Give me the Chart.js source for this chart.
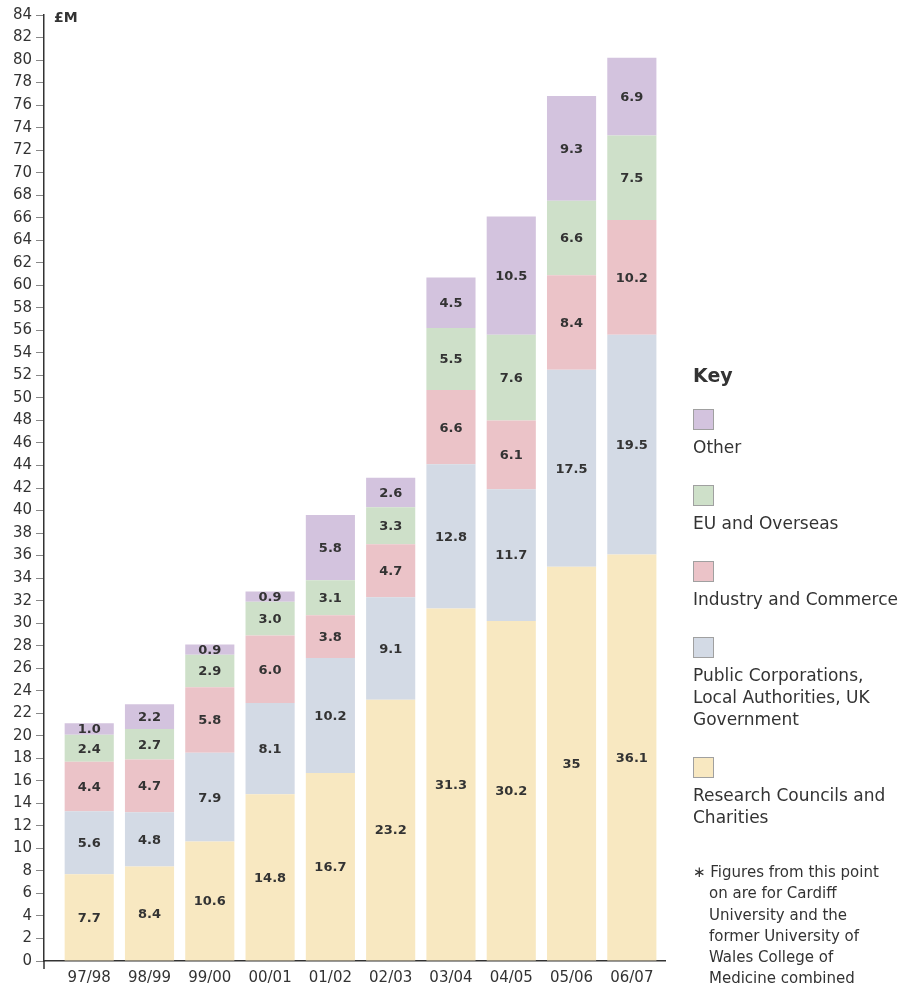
<!DOCTYPE html>
<html>
<head>
<meta charset="utf-8">
<script src="https://cdn.jsdelivr.net/npm/chart.js@4"></script>
<style>
  body { margin: 0; background: #fff; }
  #wrap { position: relative; width: 900px; height: 991px; }
  #key {
    position: absolute; left: 693px; top: 363px; width: 207px;
    font-family: 'DejaVu Sans', sans-serif; color: #333; font-size: 17px;
  }
  #key h3 { margin: 0 0 22px 0; font-size: 19px; line-height: 24px; }
  .item { margin-bottom: 27px; }
  .sw { width: 19px; height: 19px; border: 1px solid #a0a0a0; margin-bottom: 6px; }
  .item span { display: block; line-height: 22px; }
  #note {
    font-size: 15px; line-height: 21.3px; padding-left: 16px; text-indent: -16px;
    margin-top: 34px; white-space: nowrap;
  }
</style>
</head>
<body>
<div id="wrap">
  <canvas id="fundingChart" width="900" height="991"></canvas>
  <div id="key"><h3>Key</h3><div id="keyItems"></div>
    <div id="note">∗ Figures from this point<br>on are for Cardiff<br>University and the<br>former University of<br>Wales College of<br>Medicine combined</div>
  </div>
</div>
<script>
const years = ['97/98', '98/99', '99/00', '00/01', '01/02', '02/03', '03/04', '04/05', '05/06', '06/07']

// £M, stacked bottom to top
const research = [7.7, 8.4, 10.6, 14.8, 16.7, 23.2, 31.3, 30.2, 35, 36.1]
const publicCorp = [5.6, 4.8, 7.9, 8.1, 10.2, 9.1, 12.8, 11.7, 17.5, 19.5]
const industry = [4.4, 4.7, 5.8, 6.0, 3.8, 4.7, 6.6, 6.1, 8.4, 10.2]
const euOverseas = [2.4, 2.7, 2.9, 3.0, 3.1, 3.3, 5.5, 7.6, 6.6, 7.5]
const other = [1.0, 2.2, 0.9, 0.9, 5.8, 2.6, 4.5, 10.5, 9.3, 6.9]

const seriesNames = [
  'Research Councils and Charities',
  'Public Corporations, Local Authorities, UK Government',
  'Industry and Commerce',
  'EU and Overseas',
  'Other'
]
const seriesValues = [research, publicCorp, industry, euOverseas, other]
const seriesColors = ['#f8e8c1', '#d3dae5', '#ebc3c8', '#cee0c9', '#d3c3de']

const fmt = v => (Number.isInteger(v) && v >= 10 ? String(v) : v.toFixed(1))

// numbers in the middle of every segment
const segmentLabels = {
  id: 'segmentLabels',
  afterDatasetsDraw (chart) {
    const { ctx, chartArea } = chart
    ctx.save()
    ctx.font = 'bold 13px "DejaVu Sans", sans-serif'
    ctx.fillStyle = '#333'
    ctx.textAlign = 'center'
    ctx.textBaseline = 'middle'
    chart.data.datasets.forEach((ds, i) => {
      chart.getDatasetMeta(i).data.forEach((bar, j) => {
        const { x, y, base } = bar.getProps(['x', 'y', 'base'], true)
        ctx.fillText(fmt(ds.data[j].y), x, (y + base) / 2 + 1)
      })
    })
    // unit label
    ctx.font = 'bold 14px "DejaVu Sans", sans-serif'
    ctx.textAlign = 'left'
    ctx.fillText('£M', chartArea.left + 10, chartArea.top + 3)
    // little stub of the y axis below the x axis
    ctx.strokeStyle = '#333'
    ctx.lineWidth = 1.5
    ctx.beginPath()
    ctx.moveTo(chartArea.left, chartArea.bottom)
    ctx.lineTo(chartArea.left, chartArea.bottom + 8)
    ctx.stroke()
    ctx.restore()
  }
}

new Chart(document.getElementById('fundingChart'), {
  type: 'bar',
  plugins: [segmentLabels],
  data: {
    datasets: seriesValues.map((vals, i) => ({
      label: seriesNames[i],
      data: vals.map((v, j) => ({ x: j, y: v })),
      backgroundColor: seriesColors[i],
      borderWidth: 0,
      categoryPercentage: 1,
      barPercentage: 0.815
    }))
  },
  options: {
    responsive: false,
    animation: false,
    layout: { padding: { top: 15, right: 235, left: 0, bottom: 0 } },
    plugins: { legend: { display: false }, tooltip: { enabled: false } },
    scales: {
      x: {
        type: 'linear',
        stacked: true,
        offset: false,
        min: -0.75,
        max: 9.55,
        afterFit (scale) { scale.height = 30 },
        border: { color: '#333', width: 1.5 },
        grid: { display: false, offset: false },
        ticks: {
          stepSize: 1,
          includeBounds: false,
          autoSkip: false,
          maxRotation: 0,
          padding: 0,
          color: '#333',
          font: { family: 'DejaVu Sans', size: 15 },
          callback: v => (Number.isInteger(v) && years[v] !== undefined ? years[v] : '')
        }
      },
      y: {
        stacked: true,
        min: 0,
        max: 84,
        afterFit (scale) { scale.width = 44 },
        border: { color: '#333', width: 1.5 },
        grid: { drawOnChartArea: false, tickLength: 8, color: '#888' },
        ticks: {
          stepSize: 2,
          padding: 4,
          color: '#333',
          font: { family: 'DejaVu Sans', size: 15 }
        }
      }
    }
  }
})

// key, top entry first
const keyItems = document.getElementById('keyItems')
for (let i = seriesNames.length - 1; i >= 0; i--) {
  const item = document.createElement('div')
  item.className = 'item'
  const name = i === 1 ? 'Public Corporations,<br>Local Authorities, UK<br>Government'
    : i === 0 ? 'Research Councils and<br>Charities' : seriesNames[i]
  item.innerHTML = `<div class="sw" style="background:${seriesColors[i]}"></div><span>${name}</span>`
  keyItems.appendChild(item)
}
</script>
</body>
</html>
